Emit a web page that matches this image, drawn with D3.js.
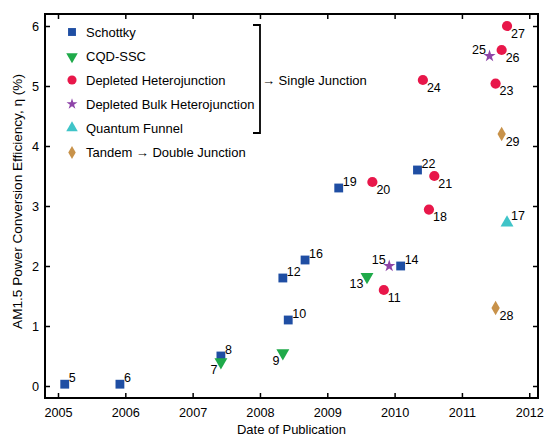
<!DOCTYPE html>
<html lang="en">
<head>
<meta charset="UTF-8">
<title>PCE vs Date</title>
<script src="https://d3js.org/d3.v7.min.js"></script>
<style>
  body { margin: 0; background: #fff; }
  svg { font-family: "Liberation Sans", Arial, sans-serif; }
</style>
</head>
<body>
<svg width="545" height="437"></svg>
<script>
// Data (year as decimal, efficiency in %)
const schottkyDate = [2005.10, 2005.92, 2007.42, 2008.42, 2008.34, 2010.09, 2008.67, 2009.17, 2010.34];
const schottkyEff  = [0.03, 0.03, 0.5, 1.1, 1.8, 2.0, 2.1, 3.3, 3.6];
const schottkyRef  = [5, 6, 8, 10, 12, 14, 16, 19, 22];

const cqdDate = [2007.42, 2008.34, 2009.59];
const cqdEff  = [0.4, 0.55, 1.82];
const cqdRef  = [7, 9, 13];

const dhDate = [2009.84, 2010.51, 2009.67, 2010.59, 2011.50, 2010.42, 2011.59, 2011.67];
const dhEff  = [1.6, 2.94, 3.4, 3.5, 5.04, 5.1, 5.6, 6.0];
const dhRef  = [11, 18, 20, 21, 23, 24, 26, 27];

const dbhDate = [2009.92, 2011.41];
const dbhEff  = [2.0, 5.5];
const dbhRef  = [15, 25];

const funnelDate = [2011.67];
const funnelEff  = [2.72];
const funnelRef  = [17];

const tandemDate = [2011.50, 2011.59];
const tandemEff  = [1.3, 4.2];
const tandemRef  = [28, 29];

const xTicks = [2005, 2006, 2007, 2008, 2009, 2010, 2011, 2012];
const yTicks = [0, 1, 2, 3, 4, 5, 6];

// where each reference number sits relative to its marker
const leftBottom = [7, 9, 13];
const leftTop = [15, 25];
const rightBottom = [11, 18, 20, 21, 23, 24, 26, 27, 28, 29];

const series = [
  { name: "Schottky", dates: schottkyDate, effs: schottkyEff, refs: schottkyRef,
    type: d3.symbolSquare, size: 78, rot: 0, color: "#1f4ea3" },
  { name: "CQD-SSC", dates: cqdDate, effs: cqdEff, refs: cqdRef,
    type: d3.symbolTriangle, size: 72, rot: 180, color: "#1faa4a" },
  { name: "Depleted Heterojunction", dates: dhDate, effs: dhEff, refs: dhRef,
    type: d3.symbolCircle, size: 82, rot: 0, color: "#e8174a" },
  { name: "Depleted Bulk Heterojunction", dates: dbhDate, effs: dbhEff, refs: dbhRef,
    type: d3.symbolStar, size: 46, rot: 0, color: "#8e44a8" },
  { name: "Quantum Funnel", dates: funnelDate, effs: funnelEff, refs: funnelRef,
    type: d3.symbolTriangle, size: 72, rot: 0, color: "#3fc4c8" },
  { name: "Tandem \u2192 Double Junction", dates: tandemDate, effs: tandemEff, refs: tandemRef,
    type: d3.symbolDiamond, size: 60, rot: 0, color: "#c8924a" }
];

const svg = d3.select("svg");
const plotL = 45, plotR = 538, plotT = 14, plotB = 398;

const x = d3.scaleLinear().domain([2004.807, 2012.13]).range([plotL, plotR]);
const y = d3.scaleLinear().domain([-0.2, 6.2]).range([plotB, plotT]);

const fontSize = 12.5;

// axes with inward ticks
function styleAxis(g) {
  g.select(".domain").remove();
  g.selectAll(".tick line").attr("stroke", "#000").attr("stroke-width", 1.5);
  g.selectAll(".tick text").attr("fill", "#000").attr("font-size", 12.7)
    .attr("font-family", "Liberation Sans, Arial, sans-serif");
}

svg.append("g").attr("transform", `translate(0,${plotB})`)
  .call(d3.axisBottom(x).tickValues(xTicks).tickFormat(d3.format("d")).tickSize(-5).tickPadding(10))
  .call(styleAxis);
svg.append("g").attr("transform", `translate(0,${plotT})`)
  .call(d3.axisTop(x).tickValues(xTicks).tickFormat("").tickSize(-5))
  .call(styleAxis);
svg.append("g").attr("transform", `translate(${plotL},0)`)
  .call(d3.axisLeft(y).tickValues(yTicks).tickFormat(d3.format("d")).tickSize(-5).tickPadding(6))
  .call(styleAxis);
svg.append("g").attr("transform", `translate(${plotR},0)`)
  .call(d3.axisRight(y).tickValues(yTicks).tickFormat("").tickSize(-5))
  .call(styleAxis);

svg.append("rect")
  .attr("x", plotL).attr("y", plotT)
  .attr("width", plotR - plotL).attr("height", plotB - plotT)
  .attr("fill", "none").attr("stroke", "#000").attr("stroke-width", 2);

// points and reference numbers
series.forEach(s => {
  const pts = s.dates.map((d, i) => ({ date: d, eff: s.effs[i], ref: s.refs[i] }));
  const g = svg.append("g");
  g.selectAll("path").data(pts).enter().append("path")
    .attr("d", d3.symbol().type(s.type).size(s.size))
    .attr("transform", d => `translate(${x(d.date)},${y(d.eff)}) rotate(${s.rot})`)
    .attr("fill", s.color);

  g.selectAll("text").data(pts).enter().append("text")
    .attr("font-size", fontSize)
    .attr("x", d => {
      const onLeft = leftBottom.includes(d.ref) || leftTop.includes(d.ref);
      return x(d.date) + (onLeft ? -3.5 : 4);
    })
    .attr("y", d => {
      const below = leftBottom.includes(d.ref) || rightBottom.includes(d.ref);
      return y(d.eff) + (below ? 11.5 : -2.5);
    })
    .attr("text-anchor", d => (leftBottom.includes(d.ref) || leftTop.includes(d.ref)) ? "end" : "start")
    .text(d => d.ref);
});

// legend
const legendY = [32, 56.5, 80, 104, 128, 152.5];
const legend = svg.append("g");
series.forEach((s, i) => {
  legend.append("path")
    .attr("d", d3.symbol().type(s.type).size(s.size * 0.8))
    .attr("transform", `translate(72,${legendY[i]}) rotate(${s.rot})`)
    .attr("fill", s.color);
  legend.append("text")
    .attr("x", 86).attr("y", legendY[i] + 4.5)
    .attr("font-size", 13)
    .text(s.name);
});

// bracket grouping the single-junction types
legend.append("path")
  .attr("d", "M253,25 H260 V133 H253")
  .attr("fill", "none").attr("stroke", "#000").attr("stroke-width", 1.8);
legend.append("text")
  .attr("x", 262).attr("y", 84.5)
  .attr("font-size", 13)
  .text("\u2192 Single Junction");

// axis titles
svg.append("text")
  .attr("x", (plotL + plotR) / 2).attr("y", 434)
  .attr("text-anchor", "middle").attr("font-size", 13)
  .text("Date of Publication");
svg.append("text")
  .attr("transform", "translate(22,201.5) rotate(-90)")
  .attr("text-anchor", "middle").attr("font-size", 13.6)
  .text("AM1.5 Power Conversion Efficiency, \u03b7 (%)");
</script>
</body>
</html>
